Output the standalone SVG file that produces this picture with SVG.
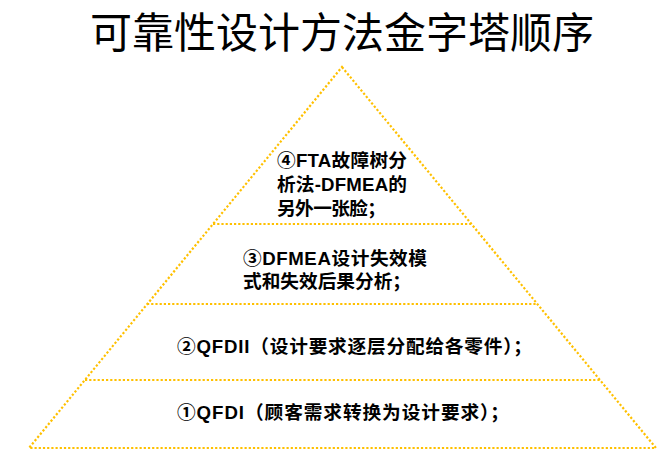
<svg xmlns="http://www.w3.org/2000/svg" width="668" height="463" viewBox="0 0 668 463">
<style>
.edge{fill:none;stroke:#FFC000;stroke-width:2.2;stroke-dasharray:2.2 2;}
.lbl{font-family:"Liberation Sans","Noto Sans CJK SC",sans-serif;font-weight:bold;font-size:18.67px;fill:#000;}
.title{font-family:"Liberation Serif","Noto Sans CJK SC",serif;font-size:42px;fill:#000;}
</style>
<rect width="668" height="463" fill="#fff"/>
<text id="title" class="title" x="342" y="48" text-anchor="middle">可靠性设计方法金字塔顺序</text>
<g id="connectors">
<polygon class="edge" points="342,67 656,448 29,448"/>
<line class="edge" x1="213" y1="224" x2="471" y2="224"/>
<line class="edge" x1="147" y1="304" x2="537" y2="304"/>
<line class="edge" x1="85" y1="380" x2="600" y2="380"/>
</g>
<g id="level4">
<text class="lbl" x="277" y="167" textLength="130" lengthAdjust="spacing">④FTA故障树分</text>
<text class="lbl" x="277" y="191" textLength="130" lengthAdjust="spacing">析法-DFMEA的</text>
<text class="lbl" x="277" y="215" textLength="109" lengthAdjust="spacing">另外一张脸；</text>
</g>
<g id="level3">
<text class="lbl" x="243" y="265" textLength="184" lengthAdjust="spacing">③DFMEA设计失效模</text>
<text class="lbl" x="243" y="288" textLength="168" lengthAdjust="spacing">式和失效后果分析；</text>
</g>
<g id="level2">
<text class="lbl" x="177" y="353" textLength="355" lengthAdjust="spacing">②QFDII（设计要求逐层分配给各零件）；</text>
</g>
<g id="level1">
<text class="lbl" x="177" y="419" textLength="332" lengthAdjust="spacing">①QFDI（顾客需求转换为设计要求）；</text>
</g>
</svg>
